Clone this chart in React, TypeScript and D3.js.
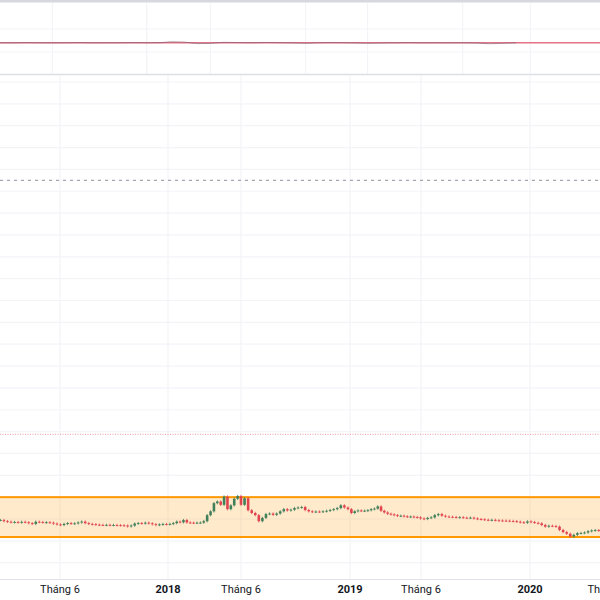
import React from "react";
import * as d3 from "d3";

// ---------- data ----------
const tickDates = ["2017-06-01", "2018-01-01", "2018-06-01", "2019-01-01", "2019-06-01", "2020-01-01", "2020-06-01"];
const tickLabels = ["Tháng 6", "2018", "Tháng 6", "2019", "Tháng 6", "2020", "Tháng 6"];
const yearTick = [false, true, false, true, false, true, false];

const firstWeek = "2017-02-03";
const weeklyClose = [
  5.90, 5.80, 5.75, 5.70, 5.72, 5.68, 5.74, 5.70, 5.62, 5.55,
  5.75, 5.72, 5.68, 5.70, 5.66, 5.58, 5.50, 5.45, 5.55, 5.62,
  5.58, 5.60, 5.68, 5.76, 5.62, 5.55, 5.52, 5.48, 5.46, 5.45,
  5.46, 5.44, 5.45, 5.43, 5.42, 5.40, 5.32, 5.40, 5.58, 5.62,
  5.60, 5.66, 5.60, 5.52, 5.45, 5.50, 5.54, 5.52, 5.55, 5.62,
  5.76, 5.70, 5.90, 5.68, 5.66, 5.65, 5.66, 5.67, 5.80, 6.35,
  6.70, 7.45, 7.60, 7.30, 8.05, 6.90, 7.25, 7.85, 8.10, 7.30,
  7.90, 6.80, 6.55, 6.35, 5.80, 6.10, 6.45, 6.50, 6.38, 6.50,
  6.70, 6.90, 6.78, 6.85, 7.00, 7.05, 7.10, 6.82, 6.70, 6.65,
  6.68, 6.66, 6.70, 6.75, 6.82, 6.90, 7.00, 7.25, 7.05, 6.90,
  6.55, 6.70, 6.78, 6.74, 6.76, 6.80, 6.90, 6.95, 7.15, 6.75,
  6.60, 6.48, 6.42, 6.35, 6.28, 6.30, 6.24, 6.20, 6.22, 6.18,
  6.15, 6.05, 6.00, 6.10, 6.15, 6.35, 6.45, 6.30, 6.22, 6.20,
  6.18, 6.15, 6.16, 6.12, 6.10, 6.12, 6.05, 6.00, 5.97, 5.93,
  5.90, 5.92, 5.88, 5.86, 5.85, 5.84, 5.82, 5.80, 5.75, 5.70,
  5.66, 5.78, 5.72, 5.65, 5.60, 5.45, 5.30, 5.38, 5.36, 5.30,
  5.00, 4.80, 4.65, 4.40, 4.55, 4.70, 4.72, 4.76, 4.88, 4.95,
  4.98, 4.94, 4.92,
];

const priceTicks = d3.range(2, 48, 2);
const rangeBox = { top: 8.0, bottom: 4.35 };
const dashedLevel = 37.0;
const dottedLevel = 13.75;

const firstMonth = "2017-02-01";
const indicatorValues = [
  48.0, 47.9, 48.1, 48.0, 47.9, 48.0, 48.1, 47.9, 48.0, 48.0, 48.1,
  48.0, 48.1, 48.9, 48.6, 47.3, 47.5, 48.4, 48.2, 48.0, 48.3, 48.1, 47.9,
  47.6, 48.0, 48.2, 48.1, 47.9, 47.6, 47.8, 48.0, 48.1, 47.9, 48.0, 47.9,
  48.0, 47.8, 47.2, 47.6, 48.0,
];
const indicatorLevel = 48.0;
const indicatorTicks = [40, 60];

// ---------- layout ----------
const W = 600;
const H = 600;
const anchorPx = [60, 168, 241, 350, 421, 530];
const topScaleFactor = 0.873;
const topPane = { y0: 3, y1: 74.5 };
const mainPane = { y0: 75, y1: 579.5 };

const parse = d3.timeParse("%Y-%m-%d");

export default function App() {
  const anchors = tickDates.slice(0, 6).map((d) => parse(d) as Date);
  const x = d3.scaleTime().domain(anchors).range(anchorPx);
  const xTop = d3.scaleTime().domain(anchors).range(anchorPx.map((v) => v * topScaleFactor));
  const y = d3.scaleLinear().domain([2, 46]).range([562.7, 82]);
  const yTop = d3.scaleLinear().domain([40, 60]).range([52, 29]);

  const start = parse(firstWeek) as Date;
  const weeks = d3.timeFriday.range(start, d3.timeFriday.offset(start, weeklyClose.length));
  const candles = weeklyClose.map((c, i) => ({
    date: weeks[i],
    open: i > 0 ? weeklyClose[i - 1] : c,
    close: c,
  }));

  const mStart = parse(firstMonth) as Date;
  const months = d3.timeMonth.range(mStart, d3.timeMonth.offset(mStart, indicatorValues.length));
  const indLine = d3
    .line<number>()
    .x((_, i) => xTop(months[i]))
    .y((v) => yTop(v))
    .curve(d3.curveMonotoneX);

  const grid = "#f3f4f8";
  const up = "#3f7f5a";
  const down = "#e0454f";

  return (
    <svg width={W} height={H} style={{ position: "absolute", left: 0, top: 0, background: "#fff" }}>
      <rect x={0} y={0} width={W} height={H} fill="#ffffff" />
      {/* top pane */}
      <rect x={0} y={0} width={W} height={2.5} fill="#d6d8de" />
      {tickDates.map((d, i) => (
        <line key={"tv" + i} x1={xTop(parse(d) as Date)} x2={xTop(parse(d) as Date)} y1={topPane.y0} y2={topPane.y1} stroke={grid} strokeWidth={1.2} />
      ))}
      {indicatorTicks.map((t) => (
        <line key={"th" + t} x1={0} x2={W} y1={yTop(t)} y2={yTop(t)} stroke={grid} strokeWidth={1.2} />
      ))}
      <line x1={0} x2={W} y1={yTop(indicatorLevel)} y2={yTop(indicatorLevel)} stroke="#e57386" strokeWidth={1.5} />
      <path d={indLine(indicatorValues) || ""} fill="none" stroke="#6b5a70" strokeOpacity={0.55} strokeWidth={1} />
      <line x1={0} x2={W} y1={topPane.y1} y2={topPane.y1} stroke="#dcdfe5" strokeWidth={1.5} />

      {/* main pane grid */}
      {tickDates.map((d, i) => (
        <line key={"v" + i} x1={x(parse(d) as Date)} x2={x(parse(d) as Date)} y1={mainPane.y0} y2={mainPane.y1} stroke={grid} strokeWidth={1.2} />
      ))}
      {priceTicks.map((t) => (
        <line key={"h" + t} x1={0} x2={W} y1={y(t)} y2={y(t)} stroke={grid} strokeWidth={1.2} />
      ))}

      {/* levels */}
      <line x1={0} x2={W} y1={y(dashedLevel)} y2={y(dashedLevel)} stroke="#a3a6af" strokeWidth={1.2} strokeDasharray="3 4" />
      <line x1={0} x2={W} y1={y(dottedLevel)} y2={y(dottedLevel)} stroke="#f29aa4" strokeWidth={1} strokeDasharray="1 1.5" />

      {/* range box */}
      <rect
        x={-10}
        width={W + 20}
        y={y(rangeBox.top)}
        height={y(rangeBox.bottom) - y(rangeBox.top)}
        fill="rgba(255,152,0,0.2)"
        stroke="#ff9800"
        strokeWidth={2}
      />

      {/* candles */}
      {candles.map((c, i) => {
        const cx = x(c.date);
        const hi = Math.max(c.open, c.close);
        const lo = Math.min(c.open, c.close);
        const col = c.close >= c.open ? up : down;
        const yt = y(hi);
        const yb = y(lo);
        return (
          <g key={"c" + i}>
            <line x1={cx} x2={cx} y1={yt - 1.2} y2={yb + 1.2} stroke={col} strokeWidth={0.8} />
            <rect x={cx - 1.3} width={2.6} y={yt} height={Math.max(0.9, yb - yt)} fill={col} />
          </g>
        );
      })}

      {/* x axis */}
      <line x1={0} x2={W} y1={mainPane.y1} y2={mainPane.y1} stroke="#e0e3eb" strokeWidth={1} />
      {tickDates.map((d, i) => (
        <text
          key={"l" + i}
          x={x(parse(d) as Date)}
          y={593}
          textAnchor="middle"
          fontFamily="Roboto, 'Liberation Sans', sans-serif"
          fontSize={11}
          fontWeight={yearTick[i] ? 700 : 400}
          fill="#131722"
        >
          {tickLabels[i]}
        </text>
      ))}
    </svg>
  );
}
